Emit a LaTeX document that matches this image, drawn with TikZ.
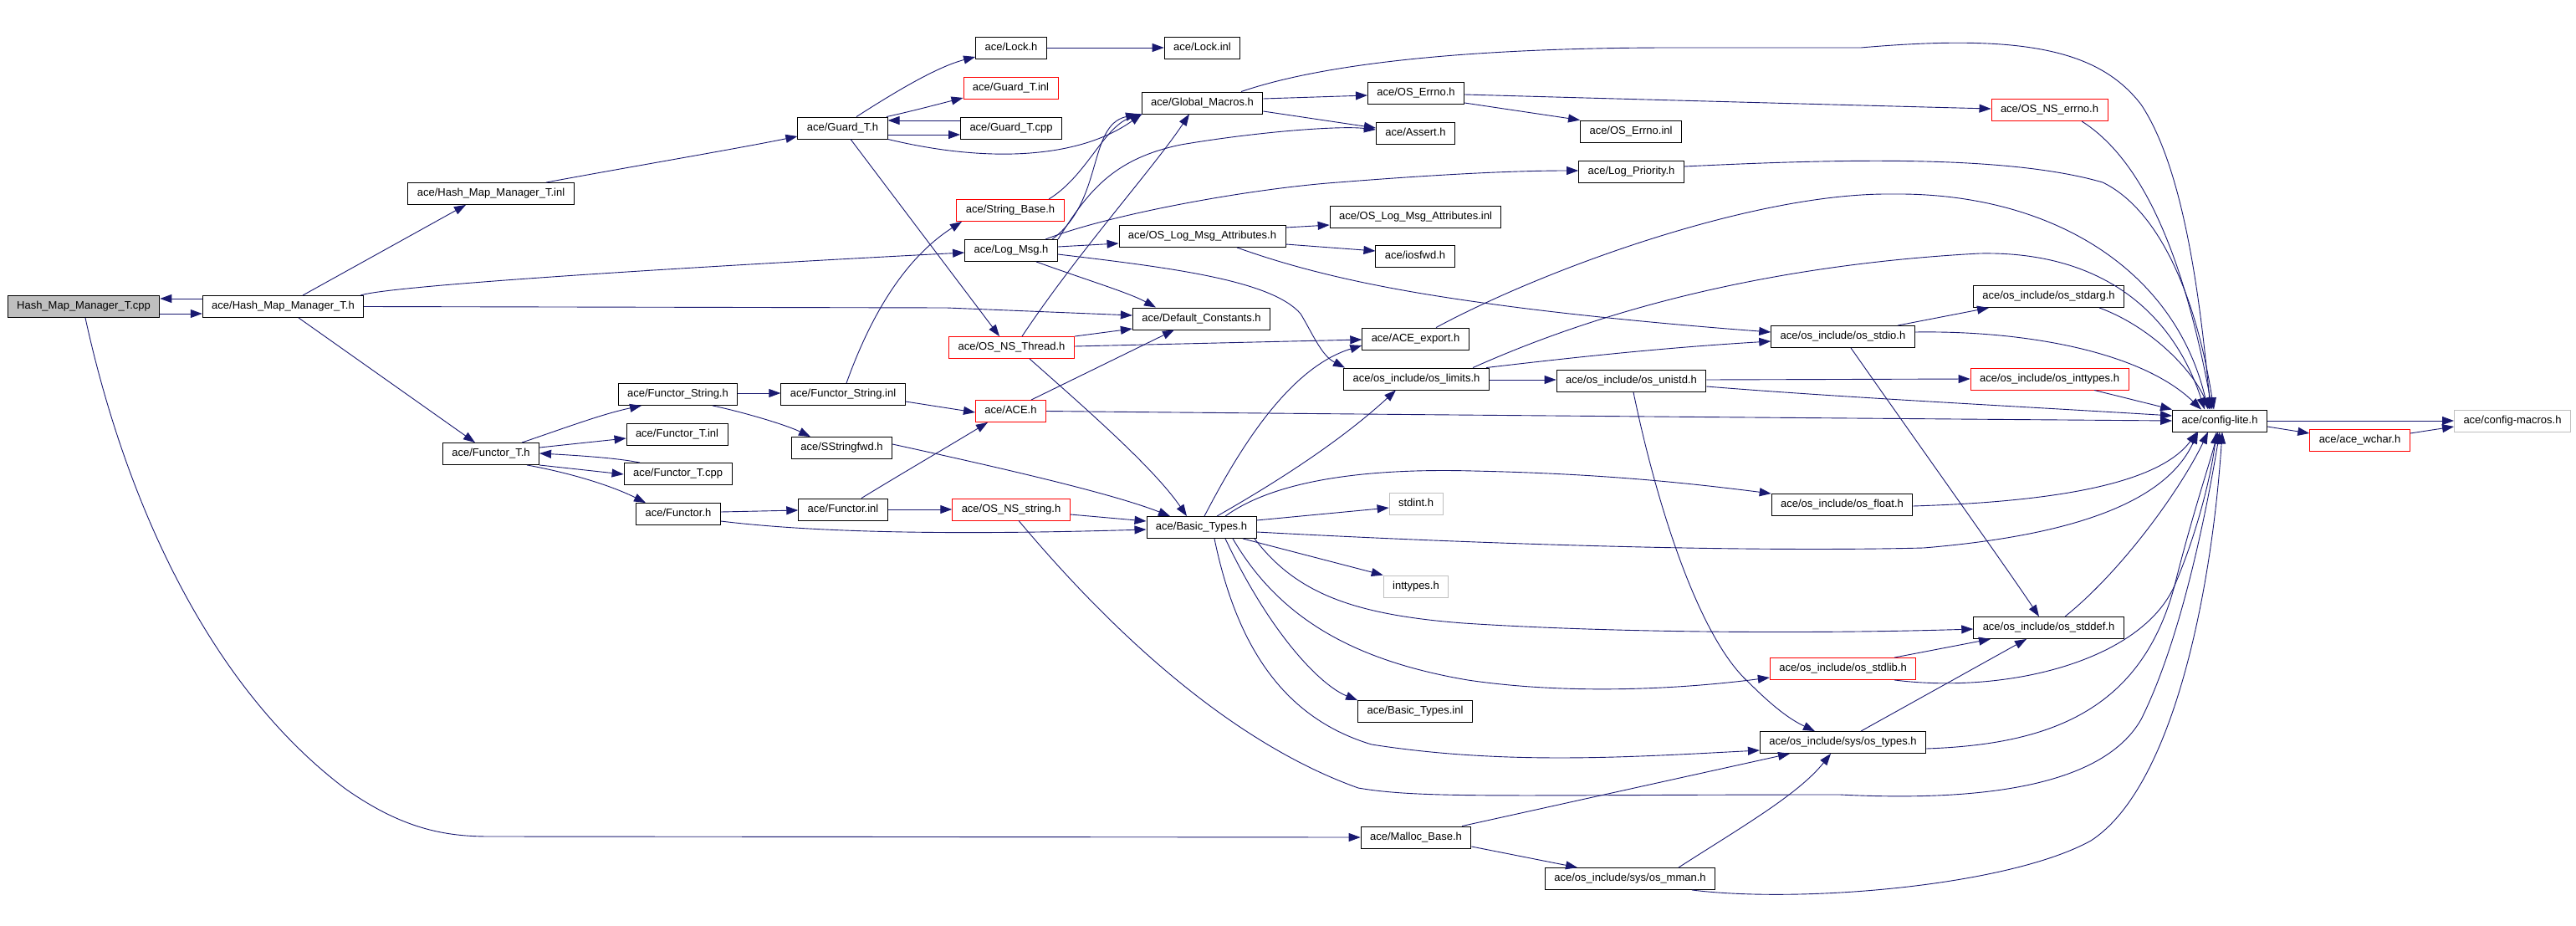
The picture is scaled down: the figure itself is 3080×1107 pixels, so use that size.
\documentclass[tikz,border=0pt]{standalone}
\usepackage{fontspec}
\newfontfamily\lab{Liberation Sans}
\usetikzlibrary{arrows.meta}
\definecolor{navyc}{HTML}{191970}
\definecolor{grayf}{HTML}{BFBFBF}
\begin{document}
\begin{tikzpicture}[x=1pt,y=-1pt,
  box/.style={draw=black, line width=0.9pt, fill=white, minimum height=26pt, inner xsep=11pt, inner ysep=0pt,
    text height=9.5pt, text depth=3pt, font=\lab\fontsize{13}{15}\selectfont, anchor=center},
  redbox/.style={box, draw=red},
  graybox/.style={box, draw=grayf},
  dep/.style={draw=navyc, line width=0.9pt, -{Triangle[length=14pt,width=10pt]}}]
\useasboundingbox (0,0) rectangle (3080,1107);
% nodes
\node[box, fill=grayf] (cpp) at (100,366.5) {Hash\_Map\_Manager\_T.cpp};
\node[box] (hmmh) at (338.5,366.5) {ace/Hash\_Map\_Manager\_T.h};
\node[box] (hmminl) at (587,231.5) {ace/Hash\_Map\_Manager\_T.inl};
\node[box] (lockh) at (1209,57) {ace/Lock.h};
\node[box] (lockinl) at (1437.5,57) {ace/Lock.inl};
\node[redbox] (guardinl) at (1208.5,105) {ace/Guard\_T.inl};
\node[box] (guardh) at (1007.5,153) {ace/Guard\_T.h};
\node[box] (guardcpp) at (1209,153) {ace/Guard\_T.cpp};
\node[box] (globalmacros) at (1437.5,123) {ace/Global\_Macros.h};
\node[redbox] (stringbase) at (1208,251.5) {ace/String\_Base.h};
\node[box] (logmsg) at (1209,299.5) {ace/Log\_Msg.h};
\node[box] (oslogmsgattr) at (1437.5,282.5) {ace/OS\_Log\_Msg\_Attributes.h};
\node[box] (defaultconst) at (1436.5,381) {ace/Default\_Constants.h};
\node[box] (oserrnoh) at (1693,111.5) {ace/OS\_Errno.h};
\node[box] (asserth) at (1692.5,159.5) {ace/Assert.h};
\node[box] (oserrnoinl) at (1950,157) {ace/OS\_Errno.inl};
\node[box] (logpriority) at (1950.5,205) {ace/Log\_Priority.h};
\node[box] (oslogmsgattrinl) at (1692.5,259) {ace/OS\_Log\_Msg\_Attributes.inl};
\node[box] (iosfwd) at (1692,306.5) {ace/iosfwd.h};
\node[redbox] (osnserrno) at (2450.5,131.5) {ace/OS\_NS\_errno.h};
\node[box] (osstdarg) at (2449.5,354.5) {ace/os\_include/os\_stdarg.h};
\node[redbox] (osnsthread) at (1209.5,415.5) {ace/OS\_NS\_Thread.h};
\node[box] (aceexport) at (1692.5,405) {ace/ACE\_export.h};
\node[box] (oslimits) at (1693.5,453) {ace/os\_include/os\_limits.h};
\node[box] (osunistd) at (1950.5,455.5) {ace/os\_include/os\_unistd.h};
\node[redbox] (aceh) at (1208.5,491.5) {ace/ACE.h};
\node[redbox] (osnsstring) at (1209,609) {ace/OS\_NS\_string.h};
\node[box] (basictypes) at (1436.5,630.5) {ace/Basic\_Types.h};
\node[graybox] (stdint) at (1693,602.5) {stdint.h};
\node[graybox] (inttypes) at (1693,701) {inttypes.h};
\node[box] (functorstringh) at (810.5,471.5) {ace/Functor\_String.h};
\node[box] (functorstringinl) at (1008,471.5) {ace/Functor\_String.inl};
\node[box] (sstringfwd) at (1006.5,535.5) {ace/SStringfwd.h};
\node[box] (functorTh) at (587,542.5) {ace/Functor\_T.h};
\node[box] (functorTinl) at (809.5,519) {ace/Functor\_T.inl};
\node[box] (functorTcpp) at (810.5,566.5) {ace/Functor\_T.cpp};
\node[box] (functorh) at (811,614.5) {ace/Functor.h};
\node[box] (functorinl) at (1008,609) {ace/Functor.inl};
\node[box] (osstdio) at (2203.5,402.5) {ace/os\_include/os\_stdio.h};
\node[redbox] (osinttypes) at (2450.5,453) {ace/os\_include/os\_inttypes.h};
\node[box] (configlite) at (2654,503) {ace/config-lite.h};
\node[redbox] (acewchar) at (2821.5,526.5) {ace/ace\_wchar.h};
\node[graybox] (configmacros) at (3004,503) {ace/config-macros.h};
\node[box] (osfloat) at (2202.5,603.5) {ace/os\_include/os\_float.h};
\node[box] (basictypesinl) at (1692,850.5) {ace/Basic\_Types.inl};
\node[box] (mallocbase) at (1693,1001) {ace/Malloc\_Base.h};
\node[box] (osmman) at (1949,1050.5) {ace/os\_include/sys/os\_mman.h};
\node[redbox] (osstdlib) at (2203.5,799.5) {ace/os\_include/os\_stdlib.h};
\node[box] (osstddef) at (2449.5,750.5) {ace/os\_include/os\_stddef.h};
\node[box] (ostypes) at (2203.5,887.5) {ace/os\_include/sys/os\_types.h};
% edges
\draw[dep] (cpp.east |- 0,375) -- (hmmh.west |- 0,375);
\draw[dep] (hmmh.west |- 0,357) -- (cpp.east |- 0,357);
\draw[dep] (362,0 |- hmmh.north) -- (557,0 |- hmminl.south);
\draw[dep] (431,0 |- hmmh.north) .. controls (470,340) and (900,315) .. (logmsg.west |- 0,302);
\draw[dep] (hmmh.east) -- (1132,368) -- (defaultconst.west |- 0,377);
\draw[dep] (357,0 |- hmmh.south) -- (568,0 |- functorTh.north);
\draw[dep] (653,0 |- hmminl.north) .. controls (750,200) and (880,178) .. (guardh.west |- 0,163);
\draw[dep] (1024,0 |- guardh.north) .. controls (1070,110) and (1120,80) .. (lockh.west |- 0,68);
\draw[dep] (1060,0 |- guardh.north) .. controls (1090,133) and (1120,125) .. (guardinl.west |- 0,117);
\draw[dep] (guardh.east |- 0,161) -- (guardcpp.west |- 0,161);
\draw[dep] (guardcpp.west |- 0,144) -- (guardh.east |- 0,144);
\draw[dep] (guardh.south east) .. controls (1180,195) and (1290,190) .. (1365,0 |- globalmacros.south);
\draw[dep] (1017,0 |- guardh.south) -- (1195,0 |- osnsthread.north);
\draw[dep] (lockh) -- (lockinl);
\draw[dep] (globalmacros.east |- 0,118) -- (oserrnoh.west |- 0,114);
\draw[dep] (globalmacros.east |- 0,133) -- (asserth.west |- 0,153);
\draw[dep] (1265,0 |- logmsg.north) .. controls (1300,230) and (1330,190) .. (1412,173) .. controls (1500,158) and (1600,150) .. (asserth.west |- 0,155);
\draw[dep] (1258,0 |- logmsg.north) .. controls (1320,240) and (1300,150) .. (1360,0 |- globalmacros.south);
\draw[dep] (1250,0 |- logmsg.north) .. controls (1330,255) and (1500,225) .. (1600,218) .. controls (1700,210) and (1800,204) .. (logpriority.west |- 0,204);
\draw[dep] (logmsg.east |- 0,295) -- (oslogmsgattr.west |- 0,291);
\draw[dep] (1239,0 |- logmsg.south) .. controls (1300,335) and (1350,350) .. (1382,0 |- defaultconst.north);
\draw[dep] (logmsg.east |- 0,304) .. controls (1400,320) and (1520,335) .. (1555,375) .. controls (1570,400) and (1580,425) .. (1608,0 |- oslimits.north);
\draw[dep] (oslogmsgattr.east |- 0,272) -- (oslogmsgattrinl.west |- 0,269);
\draw[dep] (oslogmsgattr.east |- 0,292) -- (iosfwd.west |- 0,300);
\draw[dep] (1479,0 |- oslogmsgattr.south) .. controls (1560,325) and (1650,345) .. (1773,362) .. controls (1900,380) and (2050,392) .. (osstdio.west |- 0,397);
\draw[dep] (1484,0 |- globalmacros.north) .. controls (1600,70) and (1800,57) .. (2000,57) -- (2225,57) .. controls (2420,40) and (2510,60) .. (2560,125) .. controls (2610,200) and (2630,350) .. (2643,0 |- configlite.north);
\draw[dep] (oserrnoh.east |- 0,123) -- (oserrnoinl.north west);
\draw[dep] (oserrnoh.east |- 0,113) .. controls (2000,120) and (2300,128) .. (osnserrno.west |- 0,130);
\draw[dep] (2489,0 |- osnserrno.south) .. controls (2560,190) and (2610,300) .. (2645,0 |- configlite.north);
\draw[dep] (logpriority.east |- 0,199) .. controls (2200,190) and (2400,185) .. (2514,218) .. controls (2580,250) and (2625,350) .. (2647,0 |- configlite.north);
\draw[dep] (1717,0 |- aceexport.north) .. controls (1850,320) and (2100,230) .. (2263,232) .. controls (2450,230) and (2600,320) .. (2640,0 |- configlite.north);
\draw[dep] (1761,0 |- oslimits.north) .. controls (1850,400) and (2050,320) .. (2367,303) .. controls (2520,300) and (2600,380) .. (2636,0 |- configlite.north);
\draw[dep] (1777,0 |- oslimits.north) .. controls (1900,425) and (2000,415) .. (osstdio.west |- 0,408);
\draw[dep] (oslimits.east |- 0,454) -- (osunistd.west |- 0,454);
\draw[dep] (2269,0 |- osstdio.north) -- (2378,0 |- osstdarg.south);
\draw[dep] (osstdio.east |- 0,397) .. controls (2420,395) and (2560,420) .. (2632,0 |- configlite.north);
\draw[dep] (2213,0 |- osstdio.south) .. controls (2300,540) and (2400,680) .. (2438,0 |- osstddef.north);
\draw[dep] (2510,0 |- osstdarg.south) .. controls (2570,390) and (2620,440) .. (2642,0 |- configlite.north);
\draw[dep] (osunistd.east |- 0,454) -- (osinttypes.west |- 0,453);
\draw[dep] (osunistd.east |- 0,462) .. controls (2200,475) and (2400,485) .. (configlite.west |- 0,497);
\draw[dep] (1953,0 |- osunistd.south) .. controls (1980,600) and (2030,760) .. (2090,815) .. controls (2120,845) and (2140,860) .. (2170,0 |- ostypes.north);
\draw[dep] (2504,0 |- osinttypes.south) -- (configlite.north west);
\draw[dep] (configlite.east) -- (configmacros.west);
\draw[dep] (configlite.east |- 0,510) -- (acewchar.west |- 0,518);
\draw[dep] (acewchar.east |- 0,518) -- (configmacros.west |- 0,510);
\draw[dep] (1233,0 |- aceh.north) -- (1404,0 |- defaultconst.south);
\draw[dep] (aceh.east) .. controls (1600,495) and (2200,500) .. (configlite.west |- 0,503);
\draw[dep] (osnsthread.east |- 0,414) -- (aceexport.west |- 0,406);
\draw[dep] (osnsthread.north east) -- (defaultconst.west |- 0,393);
\draw[dep] (1231,0 |- osnsthread.south) .. controls (1300,490) and (1380,560) .. (1419,0 |- basictypes.north);
\draw[dep] (1222,0 |- osnsthread.north) .. controls (1290,300) and (1380,200) .. (1422,0 |- globalmacros.south);
\draw[dep] (1440,0 |- basictypes.north) .. controls (1480,540) and (1540,440) .. (aceexport.west |- 0,413);
\draw[dep] (1455,0 |- basictypes.north) .. controls (1520,580) and (1600,530) .. (1669,0 |- oslimits.south);
\draw[dep] (basictypes.east |- 0,622) -- (stdint.west |- 0,607);
\draw[dep] (1486,0 |- basictypes.south) -- (inttypes.north west);
\draw[dep] (basictypes.east |- 0,636) .. controls (1800,652) and (2100,660) .. (2300,655) .. controls (2480,640) and (2590,600) .. (2628,0 |- configlite.south);
\draw[dep] (1465,0 |- basictypes.north) .. controls (1530,570) and (1650,560) .. (1761,563) .. controls (1900,566) and (2000,575) .. (osfloat.north west);
\draw[dep] (osfloat.east |- 0,605) .. controls (2450,600) and (2580,580) .. (2627,0 |- configlite.south);
\draw[dep] (1500,0 |- basictypes.south) .. controls (1550,710) and (1620,735) .. (1750,745) .. controls (1950,758) and (2200,757) .. (osstddef.west |- 0,752);
\draw[dep] (1474,0 |- basictypes.south) .. controls (1530,740) and (1620,790) .. (1755,813) .. controls (1870,830) and (2000,825) .. (osstdlib.west |- 0,810);
\draw[dep] (1465,0 |- basictypes.south) .. controls (1520,760) and (1580,820) .. (basictypesinl.north west);
\draw[dep] (1452,0 |- basictypes.south) .. controls (1480,780) and (1540,860) .. (1640,890) .. controls (1800,915) and (1950,905) .. (ostypes.west |- 0,897);
\draw[dep] (2265,0 |- osstdlib.north) -- (2380,0 |- osstddef.south);
\draw[dep] (2265,0 |- osstdlib.south) .. controls (2400,830) and (2560,790) .. (2600,700) .. controls (2630,630) and (2645,560) .. (2650,0 |- configlite.south);
\draw[dep] (2469,0 |- osstddef.north) .. controls (2540,680) and (2610,580) .. (2640,0 |- configlite.south);
\draw[dep] (2225,0 |- ostypes.north) -- (2423,0 |- osstddef.south);
\draw[dep] (ostypes.east |- 0,895) .. controls (2450,890) and (2560,850) .. (2600,700) .. controls (2620,620) and (2640,560) .. (2652,0 |- configlite.south);
\draw[dep] (1218,0 |- osnsstring.south) .. controls (1300,720) and (1450,880) .. (1624,942) .. controls (1700,955) and (1800,950) .. (2200,950) .. controls (2400,960) and (2520,930) .. (2560,860) .. controls (2610,760) and (2640,600) .. (2654,0 |- configlite.south);
\draw[dep] (2023,0 |- osmman.south) .. controls (2150,1080) and (2400,1060) .. (2500,1005) .. controls (2600,940) and (2645,700) .. (2657,0 |- configlite.south);
\draw[dep] (2007,0 |- osmman.north) .. controls (2080,990) and (2150,950) .. (2189,0 |- ostypes.south);
\draw[dep] (1748,0 |- mallocbase.north) -- (2140,0 |- ostypes.south);
\draw[dep] (mallocbase.east |- 0,1012) -- (1886,0 |- osmman.north);
\draw[dep] (102,0 |- cpp.south) .. controls (150,600) and (250,820) .. (413,943) .. controls (480,990) and (530,1000) .. (585,1000) -- (mallocbase.west |- 0,1001);
\draw[dep] (624,0 |- functorTh.north) .. controls (680,510) and (720,495) .. (767,0 |- functorstringh.south);
\draw[dep] (functorTh.east |- 0,535) -- (functorTinl.west |- 0,524);
\draw[dep] (functorTh.east |- 0,556) -- (functorTcpp.west |- 0,567);
\draw[dep] (765,0 |- functorTcpp.north) .. controls (740,548) and (700,545) .. (functorTh.east |- 0,542);
\draw[dep] (630,0 |- functorTh.south) .. controls (680,565) and (730,580) .. (772,0 |- functorh.north);
\draw[dep] (functorstringh.east |- 0,470) -- (functorstringinl.west |- 0,470);
\draw[dep] (852,0 |- functorstringh.south) .. controls (890,493) and (940,508) .. (969,0 |- sstringfwd.north);
\draw[dep] (1012,0 |- functorstringinl.north) .. controls (1040,380) and (1080,310) .. (1150,0 |- stringbase.south);
\draw[dep] (functorstringinl.east |- 0,480) -- (aceh.west |- 0,493);
\draw[dep] (sstringfwd.east |- 0,531) .. controls (1200,560) and (1330,590) .. (1399,0 |- basictypes.north);
\draw[dep] (functorh.east |- 0,612) -- (functorinl.west |- 0,610);
\draw[dep] (functorh.east |- 0,623) .. controls (1000,640) and (1200,638) .. (basictypes.west |- 0,633);
\draw[dep] (1030,0 |- functorinl.north) .. controls (1080,565) and (1140,530) .. (1181,0 |- aceh.south);
\draw[dep] (functorinl.east |- 0,609) -- (osnsstring.west |- 0,609);
\draw[dep] (osnsstring.east |- 0,615) -- (basictypes.west |- 0,623);
\draw[dep] (1254,0 |- stringbase.north) .. controls (1300,210) and (1320,150) .. (1366,0 |- globalmacros.south);
\end{tikzpicture}
\end{document}
